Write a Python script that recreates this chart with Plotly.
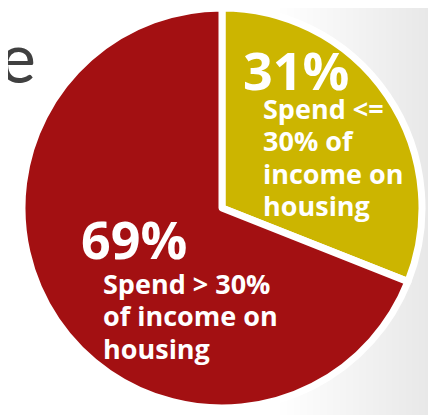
import plotly.graph_objects as go

# the page body adds an 8px margin; the figure keeps the window size and is
# positioned in figure pixels (window pixels minus 8)
W, H = 436, 415

labels = ["Spend <= 30% of income on housing", "Spend > 30% of income on housing"]
values = [31, 69]
colors = ["#CCB500", "#A31012"]
pulls = [0.0, 0.0]
big_texts = ["31%", "69%"]
small_lines = [["Spend <=", "30% of", "income on", "housing"],
               ["Spend > 30%", "of income on", "housing"]]

def px(x):
    return x / W

def py(y):
    return 1 - y / H

cx, cy = 214, 200
half = 200

fig = go.Figure()
fig.add_trace(go.Pie(
    labels=labels, values=values, sort=False, direction="clockwise", rotation=0,
    marker=dict(colors=colors, line=dict(color="white", width=7)),
    pull=pulls, textinfo="none", hoverinfo="label+percent", showlegend=False,
    domain=dict(x=[px(cx - half), px(cx + half)], y=[max(0, py(cy + half)), min(1, py(cy - half))]),
))

# light grey background gradient on the right side
shapes = []
n = 24
x0 = 272
x1 = 430
for i in range(n):
    xa = x0 + (x1 - x0) * i / n
    shapes.append(dict(type="rect", xref="paper", yref="paper", layer="below",
                       x0=px(xa), x1=1.0, y0=0, y1=1,
                       fillcolor="black", opacity=0.0028, line=dict(width=0)))

font_b = "Open Sans"
ann = [
    dict(text="e", x=px(30), y=py(48), xanchor="right", yanchor="middle",
         font=dict(family="Lato", size=70, color="#404040"), showarrow=False),
    dict(text="<b>%s</b>" % big_texts[0], x=px(233), y=py(62), xanchor="left", yanchor="middle",
         font=dict(family=font_b, size=52, color="white"), showarrow=False),
    dict(text="<b>%s</b>" % big_texts[1], x=px(71), y=py(230), xanchor="left", yanchor="middle",
         font=dict(family=font_b, size=52, color="white"), showarrow=False),
]
starts = [(253, 100), (93, 275)]
spacing = 32.5
for lines, (x0_, y0_) in zip(small_lines, starts):
    for i, ln in enumerate(lines):
        ann.append(dict(text="<b>%s</b>" % ln, x=px(x0_), y=py(y0_ + i * spacing),
                        xanchor="left", yanchor="middle", align="left",
                        font=dict(family=font_b, size=27, color="white"), showarrow=False))

fig.update_layout(
    width=W, height=H, margin=dict(l=0, r=0, t=0, b=0),
    paper_bgcolor="white", plot_bgcolor="white",
    shapes=shapes, annotations=ann,
)
fig.write_html("out.html")
